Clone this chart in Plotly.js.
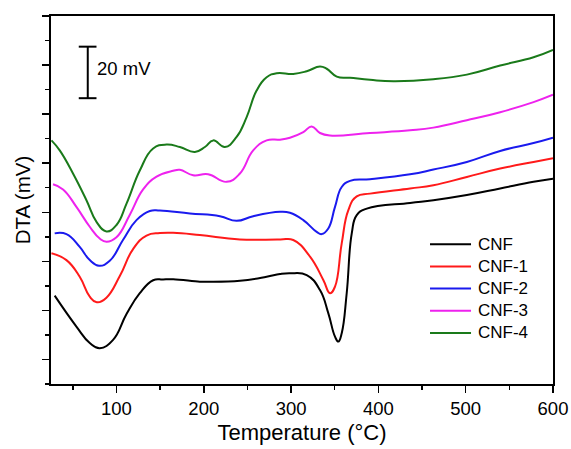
<!DOCTYPE html>
<html>
<head>
<meta charset="utf-8">
<script src="https://cdn.plot.ly/plotly-3.0.1.min.js"></script>
<style>html,body{margin:0;padding:0;background:#fff;}#chart{width:571px;height:449px;}</style>
</head>
<body>
<div id="chart"></div>
<script>
// Temperature (°C) and DTA (mV, vertically offset)
const cnfT  = [29.2,54.1,69.4,80.8,96.1,111.5,126.7,142.0,153.4,165.0,195.5,203.2,241.5,272.0,287.3,298.7,317.9,333.1,342.6,350.3,354.1,358.0,363.7,369.5,375.2,386.7,436.3,463.0,501.3,539.5,577.7,600];
const cnfV  = [36.0,23.4,16.7,14.6,18.0,28.5,37.0,42.3,42.6,42.7,41.7,41.7,42.1,43.7,44.8,45.1,44.4,38.3,28.9,19.3,17.3,20.7,37.0,61.4,68.8,71.5,73.8,74.9,77.0,79.7,82.4,83.7];

const cnf1T = [25.5,42.7,57.9,69.4,77.4,88.5,103.8,119.0,134.4,149.7,164.9,195.5,241.4,287.3,302.5,321.7,336.9,344.6,350.3,358.0,365.6,375.2,390.4,436.3,463.0,501.3,539.5,577.7,600];
const cnf1V = [53.3,50.5,43.7,35.6,33.3,35.2,44.0,55.0,60.5,61.5,61.6,60.7,58.9,58.9,58.7,51.9,42.4,37.0,39.7,57.3,70.9,76.5,77.6,79.7,81.0,84.4,87.8,90.5,92.0];

const cnf2T = [29.2,42.7,57.9,69.4,80.0,92.3,107.6,122.9,138.2,149.7,184.1,218.5,237.6,256.6,287.3,298.7,314.0,329.3,335.1,342.6,350.3,358.0,367.5,390.4,436.3,463.0,501.3,539.5,577.7,600];
const cnf2V = [61.4,61.1,55.9,50.5,48.2,50.2,58.8,66.8,70.5,70.7,69.5,68.4,66.5,68.4,70.2,69.8,66.8,62.0,61.1,63.4,72.2,80.3,82.8,83.5,85.5,87.4,90.5,95.0,98.2,100.4];

const cnf3T = [27.3,38.8,54.1,69.4,80.8,88.5,100.0,115.3,130.5,145.9,164.9,172.6,187.8,205.0,226.1,241.4,256.6,272.0,287.3,298.7,314.0,323.6,333.1,344.6,390.4,436.3,463.0,501.3,539.5,577.7,600];
const cnf3V = [81.4,79.3,72.2,64.1,59.3,58.0,59.8,69.0,79.3,84.5,86.9,87.3,85.1,85.5,82.4,85.8,95.2,99.3,99.6,100.4,102.7,105.0,102.3,101.3,102.3,103.4,104.5,107.5,110.8,114.9,117.9];

const cnf4T = [25.5,35.0,50.2,65.6,77.1,88.5,100.0,111.5,126.7,142.0,157.3,172.6,189.8,201.3,210.8,224.2,237.6,249.1,260.5,272.0,283.5,302.5,317.9,333.1,340.8,352.3,367.5,390.4,417.2,463.0,501.3,539.5,577.7,600];
const cnf4V = [99.3,95.2,85.8,74.9,66.1,62.2,64.8,73.5,87.0,96.0,97.6,96.6,94.6,96.6,99.3,96.6,100.7,108.8,119.6,125.0,126.7,126.4,127.5,129.4,128.5,125.3,124.8,124.0,123.4,124.2,126.1,129.8,133.2,136.2];

const seriesNames = ['CNF','CNF-1','CNF-2','CNF-3','CNF-4'];
const seriesX = [cnfT, cnf1T, cnf2T, cnf3T, cnf4T];
const seriesY = [cnfV, cnf1V, cnf2V, cnf3V, cnf4V];
const seriesColors = ['#000000','#ff1a1a','#1a1aee','#ee22ee','#1a7a1a'];

const xTickVals = [100,200,300,400,500,600];
const xTickText = ['100','200','300','400','500','600'];

const traces = seriesNames.map((n,i)=>({
  x: seriesX[i], y: seriesY[i], name: n, type: 'scatter', mode: 'lines', showlegend: false,
  line: {color: seriesColors[i], width: 2, shape: 'spline', smoothing: 1.3}
}));

const font = 'Arial, "Liberation Sans", sans-serif';

// legend drawn as paper-positioned line samples and labels
const legTop = 0.3796, legStep = 0.0602;
const legendShapes = seriesNames.map((n,i)=>({
  type: 'line', xref: 'paper', yref: 'paper', x0: 0.755, x1: 0.8367,
  y0: legTop - i*legStep, y1: legTop - i*legStep, line: {color: seriesColors[i], width: 2}
}));
const legendAnn = seriesNames.map((n,i)=>({
  xref: 'paper', yref: 'paper', x: 0.8466, y: legTop - i*legStep, xanchor: 'left', yanchor: 'middle',
  showarrow: false, text: n, font: {size: 17, family: font, color: '#000'}
}));

const layout = {
  width: 571, height: 449,
  margin: {l: 51, r: 18, t: 16, b: 65},
  paper_bgcolor: '#fff', plot_bgcolor: '#fff',
  font: {family: font, color: '#000', size: 18},
  showlegend: false,
  xaxis: {
    range: [25, 600], autorange: false,
    tickvals: xTickVals, ticktext: xTickText,
    ticks: 'outside', ticklen: 7, tickwidth: 1.5, tickcolor: '#000',
    minor: {dtick: 50, tick0: 0, ticks: 'outside', ticklen: 4, tickwidth: 1.5, tickcolor: '#000'},
    showline: true, linecolor: '#000', linewidth: 2, mirror: true,
    showgrid: false, zeroline: false,
    tickfont: {size: 18.5, family: font},
    title: {text: 'Temperature (°C)', font: {size: 22, family: font}, standoff: 6}
  },
  yaxis: {
    range: [0, 150], autorange: false,
    tick0: 10, dtick: 20,
    ticks: 'outside', ticklen: 7, tickwidth: 1.5, tickcolor: '#000',
    minor: {dtick: 20, tick0: 0, ticks: 'outside', ticklen: 4, tickwidth: 1.5, tickcolor: '#000'},
    showticklabels: false,
    showline: true, linecolor: '#000', linewidth: 2, mirror: true,
    showgrid: false, zeroline: false,
    title: {text: 'DTA (mV)', font: {size: 20.5, family: font}, standoff: 6}
  },
  shapes: [
    {type: 'line', xref: 'x', yref: 'y', x0: 67.1, x1: 67.1, y0: 116.5, y1: 137.5, line: {color: '#000', width: 2}},
    {type: 'line', xref: 'x', yref: 'y', x0: 56.8, x1: 77.1, y0: 137.5, y1: 137.5, line: {color: '#000', width: 2}},
    {type: 'line', xref: 'x', yref: 'y', x0: 56.8, x1: 77.1, y0: 116.5, y1: 116.5, line: {color: '#000', width: 2}}
  ].concat(legendShapes),
  annotations: [
    {xref: 'x', yref: 'y', x: 75.5, y: 128.8, xanchor: 'left', yanchor: 'middle', showarrow: false,
     text: '20 mV', font: {size: 18.5, family: font, color: '#000'}}
  ].concat(legendAnn)
};

Plotly.newPlot('chart', traces, layout, {displayModeBar: false, staticPlot: true});
</script>
</body>
</html>
